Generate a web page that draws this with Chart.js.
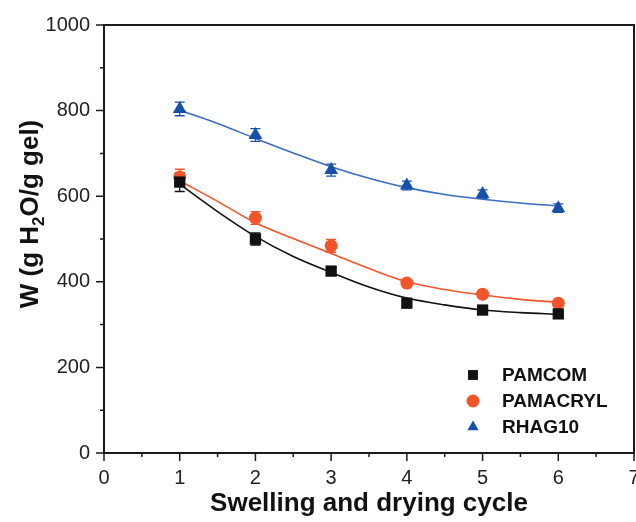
<!DOCTYPE html>
<html lang="en">
<head>
<meta charset="UTF-8">
<title>Water uptake over swelling and drying cycles</title>
<script src="https://cdn.jsdelivr.net/npm/chart.js@4.4.1/dist/chart.umd.min.js"></script>
<style>
  html, body { margin: 0; padding: 0; background: #fff; }
  #wrap { width: 636px; height: 522px; }
</style>
</head>
<body>
<div id="wrap"><canvas id="cycleChart" width="636" height="522"></canvas></div>
<script>
// measured swelling (g water / g gel) per cycle
const cycles = [1, 2, 3, 4, 5, 6];
const pamcom = [633, 500, 425, 350, 334, 325];
const pamcomErr = [22, 14, 10, 6, 6, 6];
const pamacryl = [645, 549, 484, 397, 371, 350];
const pamacrylErr = [18, 15, 15, 6, 6, 6];
const rhag10 = [804, 743, 661, 625, 605, 572];
const rhag10Err = [16, 15, 14, 10, 10, 10];

// fitted decay curves, sampled every half cycle
const fitCycles = [1, 1.5, 2, 2.5, 3, 3.5, 4, 4.5, 5, 5.5, 6];
const pamcomFit = [628, 564, 506, 459, 422, 388, 362, 346, 334, 328, 324];
const pamacrylFit = [636, 588, 538, 501, 466, 431, 400, 382, 369, 359, 352];
const rhag10Fit = [801, 770, 735, 701, 669, 642, 620, 604, 593, 584, 577];

const seriesNames = ['PAMCOM', 'PAMACRYL', 'RHAG10'];
const xTicks = [0, 1, 2, 3, 4, 5, 6, 7];
const yTicks = [0, 200, 400, 600, 800, 1000];

const BLACK = '#111111';
const ORANGE = '#f2552c';
const BLUE = '#1750a8';
const BLUE_LINE = '#3a6cc0';
const FONT = '"Liberation Sans", Arial, sans-serif';

const toXY = (xs, vals) => vals.map((v, i) => ({ x: xs[i], y: v }));

function pointSet(label, vals, errs, color, style, radius) {
  return {
    type: 'scatter', label, data: toXY(cycles, vals), errors: errs,
    pointStyle: style, pointRadius: radius, pointHoverRadius: radius,
    backgroundColor: color, borderColor: color, borderWidth: 0, order: 0
  };
}
function fitSet(vals, color) {
  return {
    type: 'scatter', label: '', data: toXY(fitCycles, vals), showLine: true,
    cubicInterpolationMode: 'monotone', borderColor: color, borderWidth: 1.6,
    pointRadius: 0, pointHoverRadius: 0, fill: false, order: 1
  };
}

// vertical error bars with caps, drawn under the markers
const errorBars = {
  id: 'errorBars',
  beforeDatasetsDraw(chart) {
    const { ctx, scales: { x, y } } = chart;
    ctx.save();
    chart.data.datasets.forEach(ds => {
      if (!ds.errors) return;
      ctx.strokeStyle = ds.borderColor;
      ctx.lineWidth = 1.3;
      ds.data.forEach((p, i) => {
        const px = x.getPixelForValue(p.x);
        const top = y.getPixelForValue(p.y + ds.errors[i]);
        const bot = y.getPixelForValue(p.y - ds.errors[i]);
        ctx.beginPath();
        ctx.moveTo(px, top); ctx.lineTo(px, bot);
        ctx.moveTo(px - 5, top); ctx.lineTo(px + 5, top);
        ctx.moveTo(px - 5, bot); ctx.lineTo(px + 5, bot);
        ctx.stroke();
      });
    });
    ctx.restore();
  }
};

// frame, major/minor ticks, y title with subscript and the legend
const frame = {
  id: 'frame',
  afterDraw(chart) {
    const { ctx, chartArea: a, scales: { x, y } } = chart;
    ctx.save();
    ctx.strokeStyle = '#1a1a1a';
    ctx.lineWidth = 2;
    ctx.strokeRect(a.left, a.top, a.right - a.left, a.bottom - a.top);

    ctx.lineWidth = 1.5;
    ctx.beginPath();
    for (let v = 0; v <= 1000; v += 100) {
      const py = y.getPixelForValue(v);
      const len = v % 200 === 0 ? 8 : 4;
      ctx.moveTo(a.left - len, py); ctx.lineTo(a.left, py);
    }
    for (let v = 0; v <= 7; v += 0.5) {
      const px = x.getPixelForValue(v);
      const len = v % 1 === 0 ? 8 : 4;
      ctx.moveTo(px, a.bottom); ctx.lineTo(px, a.bottom + len);
    }
    ctx.stroke();

    // y axis title: W (g H2O/g gel)
    ctx.fillStyle = '#111';
    ctx.translate(38, 214);
    ctx.rotate(-Math.PI / 2);
    const big = 'bold 26px ' + FONT;
    const small = 'bold 17px ' + FONT;
    const p1 = 'W (g H', sub = '2', p2 = 'O/g gel)';
    ctx.font = big;
    const w1 = ctx.measureText(p1).width, w3 = ctx.measureText(p2).width;
    ctx.font = small;
    const w2 = ctx.measureText(sub).width;
    let cx = -(w1 + w2 + w3) / 2;
    ctx.textBaseline = 'alphabetic';
    ctx.font = big; ctx.fillText(p1, cx, 0); cx += w1;
    ctx.font = small; ctx.fillText(sub, cx, 6); cx += w2;
    ctx.font = big; ctx.fillText(p2, cx, 0);
    ctx.setTransform(1, 0, 0, 1, 0, 0);

    // legend
    const rows = [375, 401, 427];
    const marks = chart.data.datasets.filter(d => d.errors);
    ctx.font = 'bold 19px ' + FONT;
    ctx.textBaseline = 'middle';
    marks.forEach((ds, i) => {
      ctx.fillStyle = ds.backgroundColor;
      ctx.strokeStyle = ds.borderColor;
      Chart.helpers.drawPoint(ctx, {
        pointStyle: ds.pointStyle, radius: ds.pointStyle === 'rect' ? 7 : 6.5,
        rotation: 0, borderWidth: 0
      }, 473, rows[i]);
      ctx.fillStyle = '#111';
      ctx.fillText(seriesNames[i], 502, rows[i] + 1);
    });
    ctx.restore();
  }
};

new Chart(document.getElementById('cycleChart'), {
  type: 'scatter',
  data: {
    datasets: [
      pointSet(seriesNames[0], pamcom, pamcomErr, BLACK, 'rect', 8),
      pointSet(seriesNames[1], pamacryl, pamacrylErr, ORANGE, 'circle', 6.5),
      pointSet(seriesNames[2], rhag10, rhag10Err, BLUE, 'triangle', 8),
      fitSet(pamcomFit, BLACK),
      fitSet(pamacrylFit, ORANGE),
      fitSet(rhag10Fit, BLUE_LINE)
    ]
  },
  options: {
    responsive: false,
    animation: false,
    devicePixelRatio: 1,
    layout: { autoPadding: false, padding: { top: 25, right: 2, left: 0, bottom: 0 } },
    plugins: { legend: { display: false }, tooltip: { enabled: false } },
    scales: {
      x: {
        type: 'linear', min: 0, max: 7,
        afterBuildTicks: s => { s.ticks = xTicks.map(v => ({ value: v })); },
        afterFit: s => { s.height = 69; s.paddingLeft = 0; s.paddingRight = 0; },
        grid: { display: false }, border: { display: false },
        ticks: { padding: 5, color: '#222', font: { size: 20, family: FONT }, callback: v => String(v) },
        title: {
          display: true, text: 'Swelling and drying cycle', color: '#111',
          font: { size: 26, weight: 'bold', family: FONT },
          padding: { top: 0, bottom: 3 }
        }
      },
      y: {
        min: 0, max: 1000,
        afterBuildTicks: s => { s.ticks = yTicks.map(v => ({ value: v })); },
        afterFit: s => { s.width = 104; s.paddingTop = 0; s.paddingBottom = 0; },
        grid: { display: false }, border: { display: false },
        ticks: { padding: 6, color: '#222', font: { size: 20, family: FONT }, callback: v => String(v) }
      }
    }
  },
  plugins: [errorBars, frame]
});
</script>
</body>
</html>
